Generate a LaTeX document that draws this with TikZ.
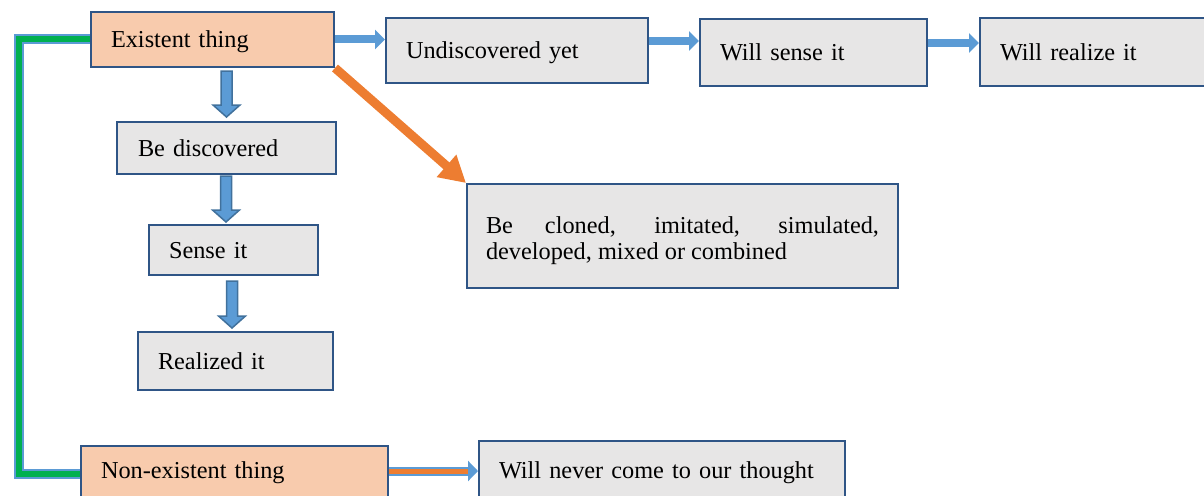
\documentclass[tikz,border=0pt]{standalone}
\usepackage{fontspec}
\setmainfont{Liberation Serif}
\usetikzlibrary{arrows.meta,calc}
\definecolor{bdr}{HTML}{2F5586}
\definecolor{boxgray}{HTML}{E7E6E6}
\definecolor{peach}{HTML}{F8CBAD}
\definecolor{lblue}{HTML}{5B9BD5}
\definecolor{dblue}{HTML}{41719C}
\definecolor{orng}{HTML}{ED7D31}
\definecolor{grn}{HTML}{00B050}
\begin{document}
\begin{tikzpicture}[x=1pt,y=-1pt,
  box/.style={draw=bdr, line width=2pt, fill=boxgray, anchor=north west, inner sep=0pt,
    text height=23pt, text depth=6pt, font=\fontsize{24.3}{26.5}\selectfont, align=left},
  peachbox/.style={box, fill=peach},
  thinarr/.style={draw=lblue, line width=8pt, -{Triangle[length=10pt,width=19pt]}},
  orangearr/.style={draw=orng, line width=9pt, -{Triangle[length=26pt,width=28pt]}},
  blockarr/.style={draw=dblue, line width=1.5pt, fill=lblue, line join=miter},
  gout/.style={draw=lblue, line width=10pt},
  gin/.style={draw=grn, line width=6pt}]
\useasboundingbox (0,0) rectangle (1204,495);

% boxes
\node[peachbox, minimum width=243pt, minimum height=55pt, text width=203pt] (ex) at (90,11) {Existent thing};
\node[box, minimum width=262pt, minimum height=65pt, text width=222pt] (und) at (385,17) {Undiscovered yet};
\node[box, minimum width=227pt, minimum height=67pt, text width=187pt] (ws) at (699,18) {Will sense it};
\node[box, minimum width=226pt, minimum height=68pt, text width=186pt] (wr) at (979,17) {Will realize it};
\node[box, minimum width=219pt, minimum height=52pt, text width=177pt] (bd) at (116,121) {Be discovered};
\node[box, minimum width=169pt, minimum height=50pt, text width=129pt] (si) at (148,224) {Sense it};
\node[box, minimum width=195pt, minimum height=58pt, text width=155pt] (ri) at (137,331) {Realized it};
\node[box, minimum width=431pt, minimum height=104pt, text width=393pt, align=justify,
      text height=25pt, text depth=31pt] (cl) at (466,183)
      {Be cloned, imitated, simulated,\linebreak developed, mixed or combined};
\node[peachbox, minimum width=307pt, minimum height=55pt, text width=267pt,
      text height=15pt, text depth=6pt] (ne) at (80,445) {Non-existent thing};
\node[box, minimum width=366pt, minimum height=60pt, text width=326pt,
      text height=20pt, text depth=6pt] (wn) at (478,440) {Will never come to our thought};

% green connector
\coordinate (gx) at (19,0);
\draw[gout] (ex.west) -- (ex.west -| gx) |- (ne.west);
\draw[gin] (ex.west) -- (ex.west -| gx) |- (ne.west);

% top horizontal arrows
\coordinate (undout) at ($(und.east)+(0,-9.5)$);
\coordinate (wsout) at ($(ws.east)+(0,-9.5)$);
\coordinate (neout) at ($(ne.east)+(0,-2.5)$);
\draw[thinarr] (ex.east) -- (und.west |- ex.east);
\draw[thinarr] (undout) -- (ws.west |- undout);
\draw[thinarr] (wsout) -- (wr.west |- wsout);

% orange diagonal
\draw[orangearr] (ex.south east) -- (cl.north west);

% bottom arrow
\draw[draw=lblue, line width=9pt, -{Triangle[length=10pt,width=20pt]}] (neout) -- (wn.west |- neout);
\draw[draw=orng, line width=5pt, shorten >=10pt] (neout) -- (wn.west |- neout);

% block arrows down
\coordinate (a1s) at ($(bd.north |- ex.south)+(0,3)$);
\coordinate (a1t) at ($(bd.north)+(0,-4)$);
\coordinate (a2s) at ($(bd.south)+(-0.5,1)$);
\coordinate (a2t) at ($(bd.south |- si.north)+(-0.5,-2)$);
\coordinate (a3s) at ($(si.south)+(-1.5,5)$);
\coordinate (a3t) at ($(si.south |- ri.north)+(-1.5,-3)$);
\foreach \s/\t in {a1s/a1t, a2s/a2t, a3s/a3t}{
  \draw[blockarr] ($(\s)+(-5.5,0)$) -- ($(\t)+(-5.5,-12)$) -- ($(\t)+(-13.5,-12)$) -- (\t)
     -- ($(\t)+(13.5,-12)$) -- ($(\t)+(5.5,-12)$) -- ($(\s)+(5.5,0)$) -- cycle;
}
\end{tikzpicture}
\end{document}
